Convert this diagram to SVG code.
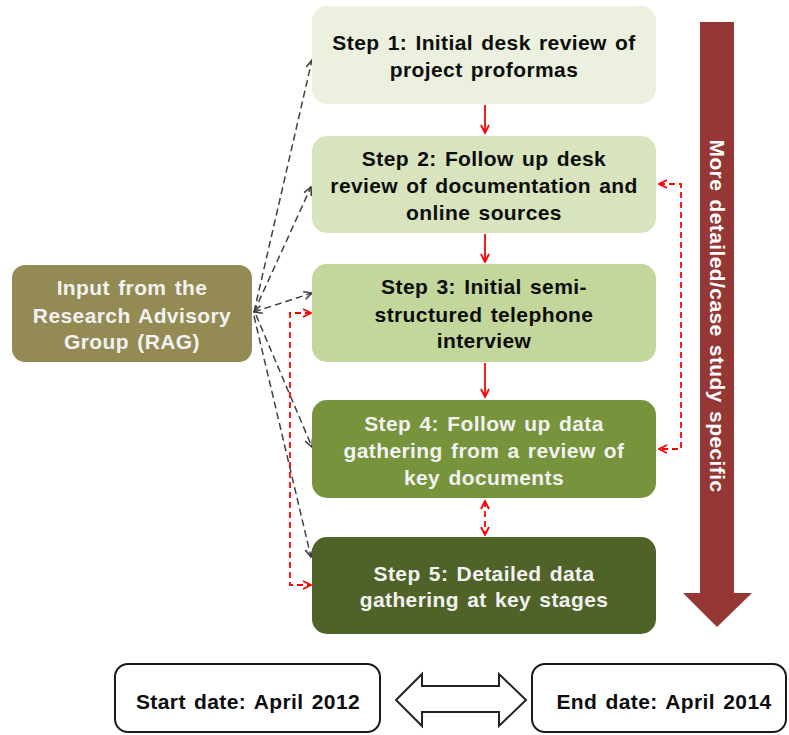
<svg xmlns="http://www.w3.org/2000/svg" width="789" height="735" viewBox="0 0 789 735">
<style>
  .t { font-family: "Liberation Sans", Arial, sans-serif; font-weight: bold; font-size: 21px; text-anchor: middle; letter-spacing: 0.4px; word-spacing: 2px; }
  .dk { fill: #0d0d0d; }
  .lt { fill: #f2f2f2; }
  .blk { fill: none; stroke: #404040; stroke-width: 1.5; stroke-dasharray: 7 4; }
  .red { fill: none; stroke: #ff0000; stroke-width: 1.8; }
  .redd { fill: none; stroke: #ff0000; stroke-width: 1.8; stroke-dasharray: 6 4; }
</style>
<defs>
  <marker id="ab" viewBox="0 0 10 10" refX="9" refY="5" markerWidth="10" markerHeight="10" markerUnits="userSpaceOnUse" orient="auto-start-reverse">
    <path d="M1,1 L9,5 L1,9" fill="none" stroke="#404040" stroke-width="1.6"/>
  </marker>
  <marker id="ar" viewBox="0 0 10 10" refX="9" refY="5" markerWidth="10" markerHeight="10" markerUnits="userSpaceOnUse" orient="auto-start-reverse">
    <path d="M1,1 L9,5 L1,9" fill="none" stroke="#ff0000" stroke-width="1.8"/>
  </marker>
</defs>
<rect width="789" height="735" fill="#ffffff"/>

<g id="timeline-arrow">
  <polygon points="700,22 734,22 734,593 752,593 717,627 683,593 700,593" fill="#953735"/>
  <text class="t" fill="#ffffff" transform="rotate(90 717 316)" x="717" y="316" dy="7.5">More detailed/case study specific</text>
</g>

<g id="connectors">
  <path class="blk" d="M254,312 L312,60" marker-end="url(#ab)"/>
  <path class="blk" d="M254,312 L311,187" marker-end="url(#ab)"/>
  <path class="blk" d="M254,312 L312,293" marker-start="url(#ab)" marker-end="url(#ab)"/>
  <path class="blk" d="M256,315 L312,447" marker-end="url(#ab)"/>
  <path class="blk" d="M254,316 L311,557" marker-end="url(#ab)"/>
  <path class="red" d="M485,105 L485,133" marker-end="url(#ar)"/>
  <path class="red" d="M485,234 L485,262" marker-end="url(#ar)"/>
  <path class="red" d="M485,363 L485,397" marker-end="url(#ar)"/>
  <path class="redd" d="M485,501 L485,535" marker-start="url(#ar)" marker-end="url(#ar)"/>
  <path class="redd" d="M311,313 L290,313 L290,585 L311,585" marker-start="url(#ar)" marker-end="url(#ar)"/>
  <path class="redd" d="M659,184 L681,184 L681,449 L659,449" marker-start="url(#ar)" marker-end="url(#ar)"/>
</g>

<g id="rag">
  <rect x="12" y="265" width="240" height="97" rx="13" fill="#948a54"/>
  <text class="t lt" x="132" y="295">Input from the</text>
  <text class="t lt" x="132" y="323">Research Advisory</text>
  <text class="t lt" x="132" y="349">Group (RAG)</text>
</g>

<g id="step1">
  <rect x="312" y="6" width="344" height="98" rx="15" fill="#ebf1de"/>
  <text class="t dk" x="484" y="50">Step 1: Initial desk review of</text>
  <text class="t dk" x="484" y="77">project proformas</text>
</g>

<g id="step2">
  <rect x="312" y="136" width="344" height="97" rx="15" fill="#d7e4bd"/>
  <text class="t dk" x="484" y="166">Step 2: Follow up desk</text>
  <text class="t dk" x="484" y="193">review of documentation and</text>
  <text class="t dk" x="484" y="220">online sources</text>
</g>

<g id="step3">
  <rect x="312" y="264" width="344" height="98" rx="15" fill="#c3d69b"/>
  <text class="t dk" x="484" y="294">Step 3: Initial semi-</text>
  <text class="t dk" x="484" y="322">structured telephone</text>
  <text class="t dk" x="484" y="348">interview</text>
</g>

<g id="step4">
  <rect x="312" y="400" width="344" height="98" rx="15" fill="#77933c"/>
  <text class="t lt" x="484" y="431">Step 4: Follow up data</text>
  <text class="t lt" x="484" y="458">gathering from a review of</text>
  <text class="t lt" x="484" y="485">key documents</text>
</g>

<g id="step5">
  <rect x="312" y="537" width="344" height="97" rx="15" fill="#4f6228"/>
  <text class="t lt" x="484" y="581">Step 5: Detailed data</text>
  <text class="t lt" x="484" y="607">gathering at key stages</text>
</g>

<g id="start-date">
  <rect x="115" y="664" width="265" height="68" rx="13" fill="#ffffff" stroke="#1a1a1a" stroke-width="2"/>
  <text class="t dk" x="248" y="709">Start date: April 2012</text>
</g>

<g id="duration-arrow">
  <polygon points="396,700 422,674 422,686 499,686 499,674 526,700 499,726 499,712 422,712 422,726" fill="#ffffff" stroke="#222222" stroke-width="2" stroke-linejoin="miter"/>
</g>

<g id="end-date">
  <rect x="532" y="664" width="254" height="68" rx="13" fill="#ffffff" stroke="#1a1a1a" stroke-width="2"/>
  <text class="t dk" x="664" y="709">End date: April 2014</text>
</g>
</svg>
